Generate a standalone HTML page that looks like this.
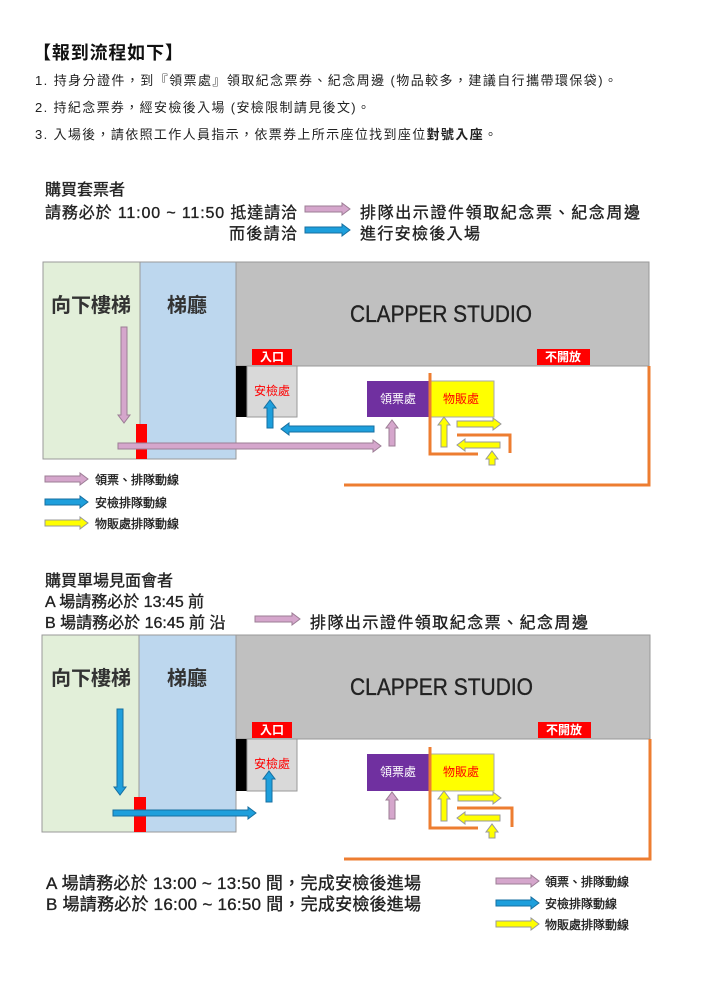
<!DOCTYPE html>
<html><head><meta charset="utf-8"><style>
html,body{margin:0;padding:0;background:#fff;}
svg{display:block;font-family:"Liberation Sans","Noto Sans CJK TC",sans-serif;}
.m{stroke:#222;stroke-width:0.35;}
</style></head><body>
<svg id="s" width="712" height="1005" viewBox="0 0 712 1005" xmlns="http://www.w3.org/2000/svg">
<text x="33" y="59" font-size="18" font-weight="bold" fill="#111" textLength="150">【報到流程如下】</text>
<text x="35" y="85" font-size="13" fill="#222" textLength="582">1.  持身分證件，到『領票處』領取紀念票券、紀念周邊 (物品較多，建議自行攜帶環保袋)。</text>
<text x="35" y="112" font-size="13" fill="#222" textLength="335">2.  持紀念票券，經安檢後入場 (安檢限制請見後文)。</text>
<text x="35" y="139" font-size="13" fill="#222" textLength="462">3.  入場後，請依照工作人員指示，依票券上所示座位找到座位<tspan font-weight="bold">對號入座</tspan>。</text>

<g class="m">
<text x="45" y="195" font-size="16" fill="#222">購買套票者</text>
<text x="45" y="218" font-size="16" fill="#222" textLength="252">請務必於 11:00 ~ 11:50 抵達請洽</text>
<text x="360" y="218" font-size="16" fill="#222" textLength="280">排隊出示證件領取紀念票、紀念周邊</text>
<text x="229" y="239" font-size="16" fill="#222" textLength="68">而後請洽</text>
<text x="360" y="239" font-size="16" fill="#222" textLength="120">進行安檢後入場</text>
</g>

<rect x="43" y="262" width="97" height="197" fill="#e2efd9" stroke="#999"/>
<rect x="140" y="262" width="96" height="197" fill="#bdd7ee" stroke="#999"/>
<rect x="236" y="262" width="413" height="104" fill="#c0c0c0" stroke="#999"/>
<text x="51" y="312" font-size="20" font-weight="bold" fill="#333" textLength="80">向下樓梯</text>
<text x="167" y="312" font-size="20" font-weight="bold" fill="#333" textLength="40">梯廳</text>
<text x="350" y="322" font-size="24" fill="#222" class="m" textLength="182" lengthAdjust="spacingAndGlyphs">CLAPPER STUDIO</text>
<rect x="252" y="349" width="40" height="16" fill="#f00"/>
<text x="272" y="361" font-size="12" font-weight="bold" fill="#fff" text-anchor="middle">入口</text>
<rect x="537" y="349" width="53" height="16" fill="#f00"/>
<text x="563" y="361" font-size="12" font-weight="bold" fill="#fff" text-anchor="middle">不開放</text>
<rect x="236" y="366" width="11" height="51" fill="#000"/>
<rect x="247" y="366" width="50" height="51" fill="#d9d9d9" stroke="#999"/>
<text x="272" y="395" font-size="12" fill="#f00" text-anchor="middle">安檢處</text>
<rect x="367" y="381" width="62" height="36" fill="#7030a0"/>
<text x="398" y="403" font-size="12" fill="#fff" text-anchor="middle">領票處</text>
<rect x="429" y="381" width="65" height="36" fill="#ff0" stroke="#aaa"/>
<text x="461" y="403" font-size="12" fill="#f00" text-anchor="middle">物販處</text>
<rect x="136" y="424" width="11" height="35" fill="#f00"/>
<polyline points="649,366 649,485 344,485" fill="none" stroke="#ed7d31" stroke-width="3"/>
<polyline points="430,373 430,454 478,454" fill="none" stroke="#ed7d31" stroke-width="3"/>
<polyline points="457,435 510,435 510,453" fill="none" stroke="#ed7d31" stroke-width="3"/>
<g class="m">
<text x="95" y="484" font-size="12" fill="#222">領票、排隊動線</text>
<text x="95" y="507" font-size="12" fill="#222">安檢排隊動線</text>
<text x="95" y="528" font-size="12" fill="#222">物販處排隊動線</text>

<text x="45" y="586" font-size="16" fill="#222">購買單場見面會者</text>
<text x="45" y="607" font-size="16" fill="#222">A 場請務必於 13:45 前</text>
<text x="45" y="628" font-size="16" fill="#222">B 場請務必於 16:45 前 沿</text>
<text x="310" y="628" font-size="16" fill="#222" textLength="278">排隊出示證件領取紀念票、紀念周邊</text>
</g>

<rect x="42" y="635" width="97" height="197" fill="#e2efd9" stroke="#999"/>
<rect x="139" y="635" width="97" height="197" fill="#bdd7ee" stroke="#999"/>
<rect x="236" y="635" width="414" height="104" fill="#c0c0c0" stroke="#999"/>
<text x="51" y="685" font-size="20" font-weight="bold" fill="#333" textLength="80">向下樓梯</text>
<text x="167" y="685" font-size="20" font-weight="bold" fill="#333" textLength="40">梯廳</text>
<text x="350" y="695" font-size="24" fill="#222" class="m" textLength="183" lengthAdjust="spacingAndGlyphs">CLAPPER STUDIO</text>
<rect x="252" y="722" width="40" height="16" fill="#f00"/>
<text x="272" y="734" font-size="12" font-weight="bold" fill="#fff" text-anchor="middle">入口</text>
<rect x="538" y="722" width="53" height="16" fill="#f00"/>
<text x="564" y="734" font-size="12" font-weight="bold" fill="#fff" text-anchor="middle">不開放</text>
<rect x="236" y="739" width="11" height="52" fill="#000"/>
<rect x="247" y="739" width="50" height="52" fill="#d9d9d9" stroke="#999"/>
<text x="272" y="768" font-size="12" fill="#f00" text-anchor="middle">安檢處</text>
<rect x="367" y="754" width="62" height="37" fill="#7030a0"/>
<text x="398" y="776" font-size="12" fill="#fff" text-anchor="middle">領票處</text>
<rect x="429" y="754" width="65" height="37" fill="#ff0" stroke="#aaa"/>
<text x="461" y="776" font-size="12" fill="#f00" text-anchor="middle">物販處</text>
<rect x="134" y="797" width="12" height="35" fill="#f00"/>
<polyline points="650,739 650,859 344,859" fill="none" stroke="#ed7d31" stroke-width="3"/>
<polyline points="430,747 430,828 478,828" fill="none" stroke="#ed7d31" stroke-width="3"/>
<polyline points="457,808 512,808 512,827" fill="none" stroke="#ed7d31" stroke-width="3"/>

<g class="m">
<text x="46" y="889" font-size="17" fill="#222" textLength="375">A 場請務必於 13:00 ~ 13:50 間，完成安檢後進場</text>
<text x="46" y="910" font-size="17" fill="#222" textLength="375">B 場請務必於 16:00 ~ 16:50 間，完成安檢後進場</text>
<text x="545" y="886" font-size="12" fill="#222">領票、排隊動線</text>
<text x="545" y="908" font-size="12" fill="#222">安檢排隊動線</text>
<text x="545" y="929" font-size="12" fill="#222">物販處排隊動線</text>
</g>
<g id="arr"></g>
</svg>
<script>
var P={f:"#d5a6cc",s:"#9c7d95"},B={f:"#1e9fdc",s:"#176fa0"},Y={f:"#ffff00",s:"#999"};
var g=document.getElementById("arr");
function poly(pts,c){var p=document.createElementNS("http://www.w3.org/2000/svg","polygon");p.setAttribute("points",pts.map(function(a){return a.join(",")}).join(" "));p.setAttribute("fill",c.f);p.setAttribute("stroke",c.s);p.setAttribute("stroke-width","1");g.appendChild(p);}
function H(x1,x2,y,c){var d=x2>x1?1:-1,h=x2-d*8;poly([[x1,y-3],[h,y-3],[h,y-6],[x2,y],[h,y+6],[h,y+3],[x1,y+3]],c);}
function V(x,y1,y2,c){var d=y2>y1?1:-1,h=y2-d*8;poly([[x-3,y1],[x-3,h],[x-6,h],[x,y2],[x+6,h],[x+3,h],[x+3,y1]],c);}
H(305,350,209,P);H(305,350,230,B);H(255,300,619,P);
V(124,327,423,P);H(118,381,446,P);V(392,446,420,P);V(270,428,400,B);H(374,281,429,B);
V(444,447,417,Y);H(457,501,424,Y);H(500,457,445,Y);V(492,465,451,Y);
H(45,88,479,P);H(45,88,502,B);H(45,88,523,Y);
V(120,709,795,B);H(113,256,813,B);V(269,802,771,B);V(392,819,792,P);
V(444,821,791,Y);H(458,501,798,Y);H(500,457,818,Y);V(492,838,824,Y);
H(496,539,881,P);H(496,539,903,B);H(496,539,924,Y);
</script>
</body></html>
